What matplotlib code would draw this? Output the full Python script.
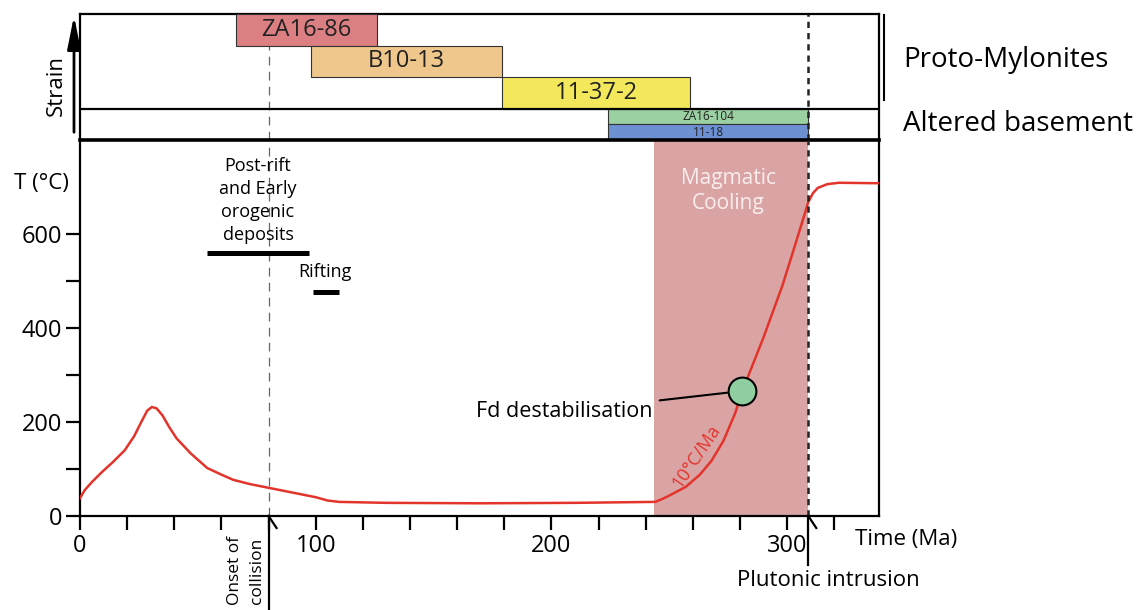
import numpy as np
import matplotlib
matplotlib.use('Agg')
import matplotlib.pyplot as plt
from matplotlib.lines import Line2D
from matplotlib.patches import FancyArrowPatch

plt.rcParams['font.family'] = ['Open Sans', 'DejaVu Sans']

# samples shown in the strain panel (age ranges in Ma)
samples = ['ZA16-86', 'B10-13', '11-37-2', 'ZA16-104', '11-18']
sample_group = ['proto', 'proto', 'proto', 'altered', 'altered']
sample_start = [66, 98, 179, 224, 224]
sample_end = [126, 179, 259, 309, 309]
sample_colors = ['#dc7f82', '#efc78d', '#f3e85c', '#9bd0a2', '#6d90d3']

# temperature-time path
time_ma = [0, 2, 5, 9, 14, 19, 23, 26, 28.5, 30.5, 32.5, 35, 38, 41, 47, 54,
           60, 65, 72, 80, 90, 100, 105, 110, 130, 170, 210, 244, 247, 251,
           257, 263, 268, 273, 278, 281, 290, 298, 303, 307, 309, 311, 313,
           317, 322, 339]
temp_c = [38, 55, 72, 92, 115, 140, 170, 200, 224, 232, 229, 214, 188, 165,
          133, 102, 88, 77, 68, 60, 50, 40, 33, 30, 28, 27, 28, 30, 36, 46,
          62, 88, 118, 160, 219, 266, 380, 490, 570, 635, 668, 687, 698, 706,
          709, 708]

# events and intervals
collision_ma = 80
intrusion_ma = 309
magmatic_cooling = (243.6, 309)
postrift_deposits = (54, 97, 560)
rifting = (99, 110, 477)
fd_point = (281, 266)

W, H = 1145, 610


def rect(x0, y0, x1, y1):
    return [x0 / W, 1 - y1 / H, (x1 - x0) / W, (y1 - y0) / H]


def fpt(x, y):
    return x / W, 1 - y / H


def fig_line(xs, ys, **kw):
    fig.add_artist(Line2D([x / W for x in xs], [1 - y / H for y in ys],
                          transform=fig.transFigure, color='black', **kw))


fig = plt.figure(figsize=(W / 100, H / 100), dpi=100)
ax_s = fig.add_axes(rect(80, 14, 879, 140))
ax = fig.add_axes(rect(80, 140, 879, 516))

# ---- strain panel ----
bottoms = [0] * len(samples)
y = 0
for i in reversed(range(len(samples))):
    bottoms[i] = y
    y += 1 if sample_group[i] == 'altered' else 2
for i, name in enumerate(samples):
    h = 1 if sample_group[i] == 'altered' else 2
    ax_s.barh(bottoms[i], sample_end[i] - sample_start[i], left=sample_start[i],
              height=h, align='edge', color=sample_colors[i],
              edgecolor='#333333', lw=0.8, zorder=3)
    ax_s.text((sample_start[i] + sample_end[i]) / 2, bottoms[i] + h / 2, name,
              ha='center', va='center', color='#222222', zorder=4,
              fontsize=17 if h == 2 else 8.5)
ax_s.axhline(2, color='black', lw=1.6, zorder=5)
ax_s.set_xlim(0, 339)
ax_s.set_ylim(0, y)
ax_s.set_xticks([])
ax_s.set_yticks([])
for sp in ax_s.spines.values():
    sp.set_linewidth(1.6)
ax_s.axvline(collision_ma, color='#666666', lw=0.9, ls=(0, (7, 5)), zorder=1)
ax_s.axvline(intrusion_ma, color='#222222', lw=1.8, ls=(0, (2.5, 2)), zorder=6)

# ---- temperature panel ----
ax.axvspan(*magmatic_cooling, color='#dba4a4', lw=0, zorder=0)
ax.axvline(collision_ma, color='#666666', lw=0.9, ls=(0, (7, 5)), zorder=1)
ax.axvline(intrusion_ma, color='#222222', lw=1.8, ls=(0, (2.5, 2)), zorder=4)
ax.plot(time_ma, temp_c, color='#e3342b', lw=1.8, zorder=3)
ax.plot(*fd_point, marker='o', ms=20, mfc='#8fcf9f', mec='black', mew=1.5,
        zorder=5)
ax.annotate('Fd destabilisation', xy=fd_point, xytext=(243, 223),
            ha='right', va='center', fontsize=15.5,
            arrowprops=dict(arrowstyle='-', lw=1.5, color='black',
                            shrinkA=3, shrinkB=11))
ax.text(261.5, 128, '10°C/Ma', rotation=56, ha='center', va='center',
        color='#e3342b', fontsize=13)
ax.text(275, 691, 'Magmatic\nCooling', ha='center', va='center',
        color='#f8eeee', fontsize=15, linespacing=1.25)

ax.hlines(postrift_deposits[2], postrift_deposits[0], postrift_deposits[1],
          color='black', lw=3.6)
ax.text(75.5, 672, 'Post-rift\nand Early\norogenic\ndeposits', ha='center',
        va='center', fontsize=13, linespacing=1.35)
ax.hlines(rifting[2], rifting[0], rifting[1], color='black', lw=3.6)
ax.text(104, 519, 'Rifting', ha='center', va='center', fontsize=13)

ax.set_xlim(0, 339)
ax.set_ylim(0, 800)
xt = np.arange(0, 340, 20)
ax.set_xticks(xt)
ax.set_xticklabels([str(v) if v % 100 == 0 else '' for v in xt], fontsize=17)
yt = np.arange(0, 700, 100)
ax.set_yticks(yt)
ax.set_yticklabels([str(v) if v % 200 == 0 else '' for v in yt], fontsize=17)
ax.tick_params(direction='out', length=10, width=1.6, pad=3)
for sp in ax.spines.values():
    sp.set_linewidth(1.6)
ax.spines['top'].set_linewidth(2.6)

# ---- outside labels ----
fig.text(*fpt(41, 183), 'T (°C)', ha='center', va='center', fontsize=16)
fig.text(*fpt(56, 86), 'Strain', rotation=90, ha='center', va='center',
         fontsize=16)
fig.add_artist(FancyArrowPatch(fpt(74, 135), fpt(74, 13),
                               transform=fig.transFigure,
                               arrowstyle='-|>,head_length=1.0,head_width=0.2',
                               mutation_scale=20, lw=2, color='black'))
fig.text(*fpt(903, 60), 'Proto-Mylonites', ha='left', va='center',
         fontsize=20)
fig.text(*fpt(903, 124), 'Altered basement', ha='left', va='center',
         fontsize=20)
fig_line([884, 884], [15, 100], lw=1.5)

fig.text(*fpt(855, 540), 'Time (Ma)', ha='left', va='center', fontsize=16)

# event arrows below the time axis
xc = 80 + collision_ma * 799 / 339
fig_line([xc, xc], [516, 610], lw=1.6)
fig_line([xc, xc + 8], [516, 528], lw=1.6)
fig.text(*fpt(246, 536), 'Onset of\ncollision', rotation=90, ha='center',
         va='top', fontsize=12.5, linespacing=1.45)

xi = 80 + intrusion_ma * 799 / 339
fig_line([xi, xi], [516, 565], lw=1.6)
fig_line([xi, xi + 8], [516, 528], lw=1.6)
fig.text(*fpt(828, 580), 'Plutonic intrusion', ha='center', va='center',
         fontsize=16)

fig.savefig('out.png', dpi=100)
